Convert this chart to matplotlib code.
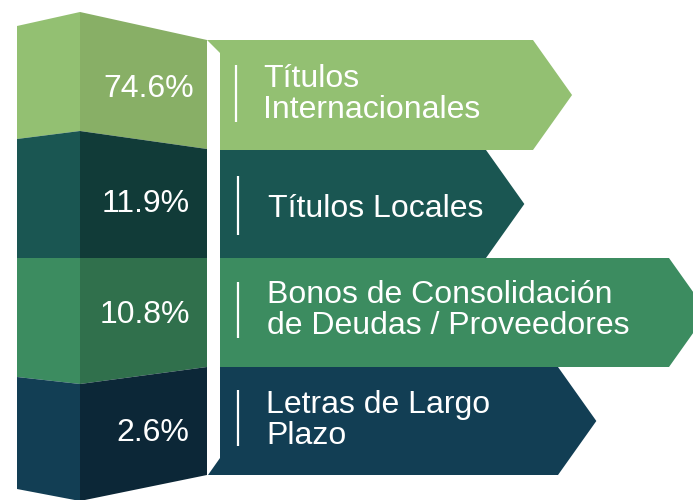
import matplotlib.pyplot as plt
from matplotlib.patches import Polygon

plt.rcParams['font.family'] = ['Liberation Sans', 'DejaVu Sans']

# data
values = [74.6, 11.9, 10.8, 2.6]
labels = ['Títulos\nInternacionales', 'Títulos Locales',
          'Bonos de Consolidación\nde Deudas / Proveedores', 'Letras de Largo\nPlazo']
front_colors = ['#93c072', '#1a5652', '#3c8c60', '#123e54']
side_colors = ['#88af66', '#113b38', '#30704c', '#0c2737']

# layout (pixels)
col_x = (17, 80, 207)
# segment borders of the column: (left, middle, right) y
borders = [(26, 12, 40), (139, 131, 149), (258, 258, 258), (377, 384, 367), (489, 501, 475)]
chev_rows = [(40, 150), (150, 258), (258, 367), (367, 475)]
chev_flat = [533, 486, 669, 558]
pct_base = [97, 212, 323, 441]
pct_x = [194, 190, 190, 189]
lab_x = [263, 268, 267, 266]
lab_base = [87, 217, 303, 413]
bar_y = [(65, 122), (176, 235), (282, 338), (390, 446)]
bar_x = [236, 238, 238, 238]

fig = plt.figure(figsize=(6.93, 5.0), dpi=100)
ax = fig.add_axes([0, 0, 1, 1])
ax.set_xlim(0, 693)
ax.set_ylim(500, 0)
ax.axis('off')

for i, v in enumerate(values):
    top = borders[i]
    bot = borders[i + 1]
    # left face of the column
    ax.add_patch(Polygon([(col_x[0], top[0]), (col_x[1], top[1]), (col_x[1], bot[1]), (col_x[0], bot[0])],
                         closed=True, fc=front_colors[i], ec='none'))
    # right face of the column
    ax.add_patch(Polygon([(col_x[1], top[1]), (col_x[2], top[2]), (col_x[2], bot[2]), (col_x[1], bot[1])],
                         closed=True, fc=side_colors[i], ec='none'))
    ax.text(pct_x[i], pct_base[i], f'{v}%', color='white', fontsize=23,
            ha='right', va='baseline')

    # arrow shaped label box
    yt, yb = chev_rows[i]
    ym = (yt + yb) / 2
    xf = chev_flat[i]
    tip = xf + 0.71 * (yb - yt) / 2
    if i == 0:
        pts = [(207, yt), (xf, yt), (tip, ym), (xf, yb), (220, yb), (220, 53)]
    elif i == len(values) - 1:
        pts = [(220, yt), (xf, yt), (tip, ym), (xf, yb), (208, yb), (220, 458)]
    else:
        pts = [(220, yt), (xf, yt), (tip, ym), (xf, yb), (220, yb)]
    ax.add_patch(Polygon(pts, closed=True, fc=front_colors[i], ec='none'))

    ax.plot([bar_x[i], bar_x[i]], bar_y[i], color='white', lw=1.6, solid_capstyle='butt')
    for k, line in enumerate(labels[i].split('\n')):
        ax.text(lab_x[i], lab_base[i] + k * 30.5, line, color='white', fontsize=23,
                ha='left', va='baseline')

fig.savefig('out.png', dpi=100)
